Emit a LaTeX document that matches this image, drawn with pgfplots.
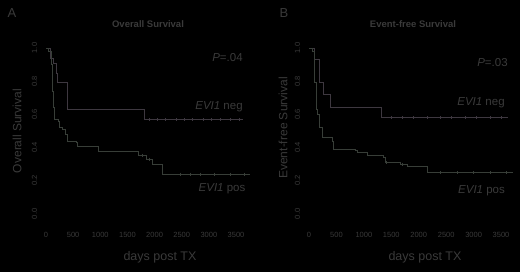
\documentclass[border=0pt]{standalone}
\usepackage{pgfplots}
\pgfplotsset{compat=1.18}
\usepackage{fontspec}
\setmainfont{Liberation Sans}
\definecolor{ink}{RGB}{58,58,58}
\definecolor{negc}{RGB}{62,56,64}
\definecolor{posc}{RGB}{56,62,56}
\pgfplotsset{
  km/.style={
    scale only axis, clip=false,
    axis line style={draw=none}, tick style={draw=none},
    ymin=-0.127, ymax=1.0, xmax=3800,
    xtick={0,500,1000,1500,2000,2500,3000,3500},
    ytick={0,0.2,0.4,0.6,0.8,1.0},
    /pgf/number format/assume math mode=true,
    /pgf/number format/1000 sep={},
    yticklabel style={rotate=90, anchor=center, inner sep=0pt, font=\fontsize{7.5}{8}\selectfont, text=ink,
      /pgf/number format/fixed, /pgf/number format/fixed zerofill, /pgf/number format/precision=1},
    xticklabel style={anchor=center, inner sep=0pt, font=\fontsize{7.5}{8}\selectfont, text=ink},
    height=187pt,
  },
}
\begin{document}
\begin{tikzpicture}
\fill[black] (0,0) rectangle (520pt,272pt);
\path[use as bounding box] (0,0) rectangle (520pt,272pt);
% Panel A
\begin{axis}[km, at={(34.5pt,37pt)}, anchor=south west, xmin=-212, width=217.8pt]
\addplot[const plot, negc, line width=0.7pt] coordinates {(0,1.0)(75,0.94)(140,0.91)(190,0.85)(215,0.79)(387,0.633)(1805,0.57)(3630,0.57)};
\addplot[const plot, posc, line width=0.7pt] coordinates {(0,1.0)(40,0.98)(90,0.90)(120,0.74)(140,0.64)(160,0.57)(220,0.56)(250,0.52)(310,0.51)(360,0.48)(400,0.44)(550,0.43)(570,0.41)(965,0.38)(1700,0.355)(1850,0.33)(1960,0.30)(2150,0.24)(3760,0.24)};
\addplot[only marks, mark=|, mark size=1.5pt, negc] coordinates {(1900,0.57)(2050,0.57)(2200,0.57)(2400,0.57)(2550,0.57)(2700,0.57)(2900,0.57)(3050,0.57)(3200,0.57)(3400,0.57)(3550,0.57)};
\addplot[only marks, mark=|, mark size=1.5pt, posc] coordinates {(1780,0.355)(1900,0.33)(2470,0.24)(2650,0.24)(2840,0.24)(3100,0.24)(3400,0.24)(3650,0.24)};
\end{axis}
% Panel B
\begin{axis}[km, at={(297.5pt,37pt)}, anchor=south west, xmin=-210, width=220pt]
\addplot[const plot, negc, line width=0.7pt] coordinates {(0,1.0)(90,0.93)(180,0.79)(260,0.72)(390,0.645)(1320,0.58)(3620,0.58)};
\addplot[const plot, posc, line width=0.7pt] coordinates {(0,1.0)(55,0.98)(90,0.79)(125,0.63)(145,0.60)(180,0.52)(235,0.46)(420,0.44)(435,0.39)(840,0.385)(875,0.37)(1055,0.35)(1350,0.34)(1385,0.31)(1660,0.30)(1785,0.285)(2150,0.25)(3720,0.25)};
\addplot[only marks, mark=|, mark size=1.5pt, negc] coordinates {(1500,0.58)(1700,0.58)(1900,0.58)(2150,0.58)(2400,0.58)(2600,0.58)(2850,0.58)(3050,0.58)(3300,0.58)(3500,0.58)};
\addplot[only marks, mark=|, mark size=1.5pt, posc] coordinates {(1400,0.31)(1700,0.30)(2400,0.25)(2700,0.25)(3000,0.25)(3300,0.25)(3600,0.25)};
\end{axis}
% Texts
\begin{scope}[text=ink]
\node[font=\fontsize{13}{14}\selectfont] at (12pt,259pt) {A};
\node[font=\fontsize{13}{14}\selectfont] at (284pt,259pt) {B};
\node[font=\bfseries\fontsize{9.5}{10}\selectfont] at (148pt,248pt) {Overall Survival};
\node[font=\bfseries\fontsize{9.5}{10}\selectfont] at (413pt,248pt) {Event-free Survival};
\node[font=\fontsize{12}{13}\selectfont, rotate=90] at (17pt,141pt) {Overall Survival};
\node[font=\fontsize{12}{13}\selectfont, rotate=90] at (283pt,144pt) {Event-free Survival};
\node[font=\fontsize{12.5}{13}\selectfont] at (160pt,15pt) {days post TX};
\node[font=\fontsize{12.5}{13}\selectfont] at (425pt,15pt) {days post TX};
\node[font=\fontsize{11.5}{12}\selectfont] at (227.5pt,214pt) {\textit{P}=.04};
\node[font=\fontsize{11.5}{12}\selectfont] at (492.5pt,209pt) {\textit{P}=.03};
\node[font=\fontsize{11.5}{12}\selectfont] at (219pt,165pt) {\textit{EVI1} neg};
\node[font=\fontsize{11.5}{12}\selectfont] at (481pt,169pt) {\textit{EVI1} neg};
\node[font=\fontsize{11.5}{12}\selectfont] at (222pt,83pt) {\textit{EVI1} pos};
\node[font=\fontsize{11.5}{12}\selectfont] at (481.5pt,81pt) {\textit{EVI1} pos};
\end{scope}
\end{tikzpicture}
\end{document}
